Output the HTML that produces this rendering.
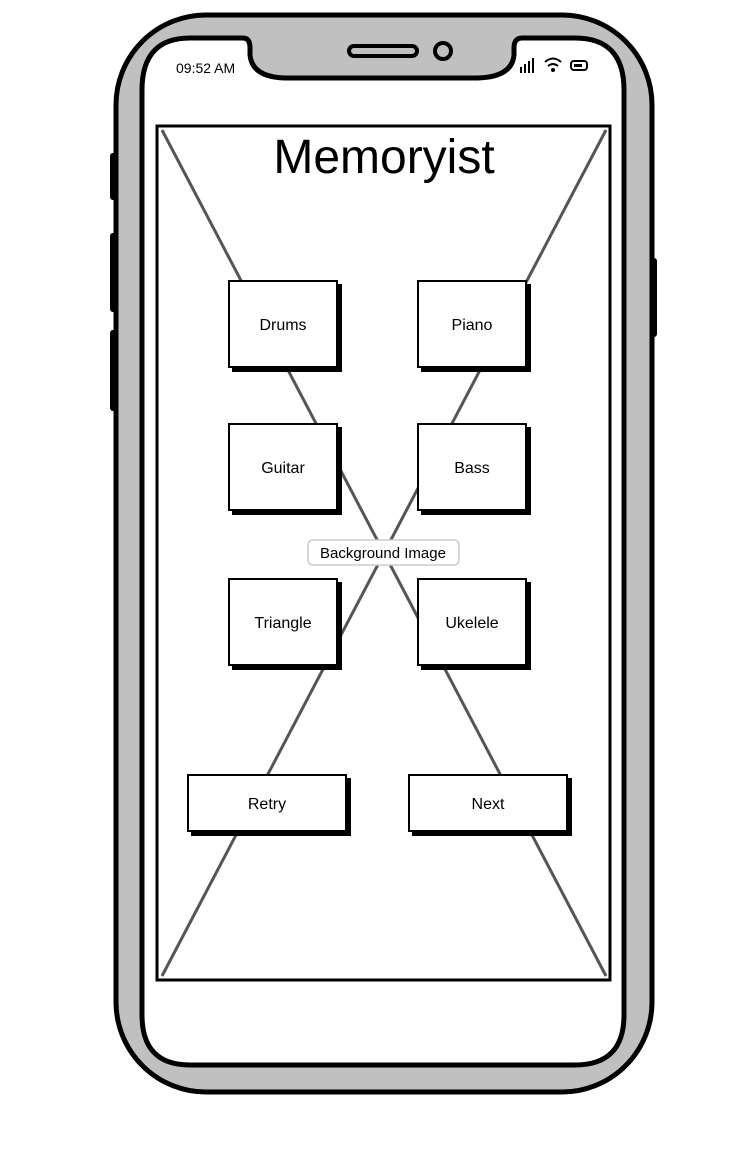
<!DOCTYPE html>
<html><head><style>
html,body{margin:0;padding:0;background:#fff;}
svg{display:block;}
text{font-family:"Liberation Sans",sans-serif;fill:#000;}
</style></head><body>
<svg width="742" height="1162" viewBox="0 0 742 1162" xmlns="http://www.w3.org/2000/svg">
<!-- side buttons -->
<rect x="110" y="153" width="8" height="47" rx="3" fill="#000"/>
<rect x="110" y="233" width="8" height="79" rx="3" fill="#000"/>
<rect x="110" y="330" width="8" height="81" rx="3" fill="#000"/>
<rect x="649" y="258" width="8" height="79" rx="3" fill="#000"/>
<!-- outer body -->
<rect x="116" y="15" width="536" height="1077" rx="90" fill="#c0c0c0" stroke="#000" stroke-width="5"/>
<!-- screen -->
<path d="M190 38 H243 Q250 38 250 48 V55 Q252 77 285 78 H478 Q512 77 514 55 V48 Q514 38 522 38 H575 Q624 38 624 90 V1015 Q624 1065 575 1065 H190 Q142 1065 142 1015 V90 Q142 38 190 38 Z" fill="#fff" stroke="#000" stroke-width="5"/>
<rect x="349" y="46" width="68" height="10" rx="5" fill="none" stroke="#000" stroke-width="4"/>
<ellipse cx="443" cy="51" rx="8" ry="8" fill="none" stroke="#000" stroke-width="4"/>
<text x="176" y="73" font-size="14">09:52 AM</text>
<!-- signal -->
<g fill="#000"><rect x="520" y="67" width="2" height="6"/><rect x="524" y="64" width="2" height="9"/><rect x="528" y="61" width="2" height="12"/><rect x="532" y="58" width="2" height="15"/></g>
<path d="M545 62 Q553 55 561 62 M548 66 Q553 62 558 66" fill="none" stroke="#000" stroke-width="2"/>
<circle cx="553" cy="70" r="2" fill="#000"/>
<rect x="571" y="61" width="16" height="9" rx="3" fill="none" stroke="#000" stroke-width="2"/>
<rect x="574" y="64" width="8" height="3" fill="#000"/>
<!-- image frame -->
<rect x="157" y="126" width="453" height="854" fill="#fff" stroke="#000" stroke-width="3"/>
<line x1="162" y1="130" x2="606" y2="976" stroke="#555" stroke-width="3"/>
<line x1="606" y1="130" x2="162" y2="976" stroke="#555" stroke-width="3"/>
<text x="384" y="173" font-size="48" text-anchor="middle">Memoryist</text>
<!-- label -->
<rect x="308" y="540" width="151" height="25" rx="5" fill="#fff" stroke="#ccc" stroke-width="1.5"/>
<text x="383" y="558" font-size="15" text-anchor="middle">Background Image</text>
<!-- buttons -->
<g stroke="#000" stroke-width="2">
<rect x="233" y="285" width="108" height="86" fill="#000"/><rect x="229" y="281" width="108" height="86" fill="#fff"/>
<rect x="422" y="285" width="108" height="86" fill="#000"/><rect x="418" y="281" width="108" height="86" fill="#fff"/>
<rect x="233" y="428" width="108" height="86" fill="#000"/><rect x="229" y="424" width="108" height="86" fill="#fff"/>
<rect x="422" y="428" width="108" height="86" fill="#000"/><rect x="418" y="424" width="108" height="86" fill="#fff"/>
<rect x="233" y="583" width="108" height="86" fill="#000"/><rect x="229" y="579" width="108" height="86" fill="#fff"/>
<rect x="422" y="583" width="108" height="86" fill="#000"/><rect x="418" y="579" width="108" height="86" fill="#fff"/>
<rect x="192" y="779" width="158" height="56" fill="#000"/><rect x="188" y="775" width="158" height="56" fill="#fff"/>
<rect x="413" y="779" width="158" height="56" fill="#000"/><rect x="409" y="775" width="158" height="56" fill="#fff"/>
</g>
<g font-size="16" text-anchor="middle">
<text x="283" y="330">Drums</text><text x="472" y="330">Piano</text>
<text x="283" y="473">Guitar</text><text x="472" y="473">Bass</text>
<text x="283" y="628">Triangle</text><text x="472" y="628">Ukelele</text>
<text x="267" y="809">Retry</text><text x="488" y="809">Next</text>
</g>
</svg>
</body></html>
